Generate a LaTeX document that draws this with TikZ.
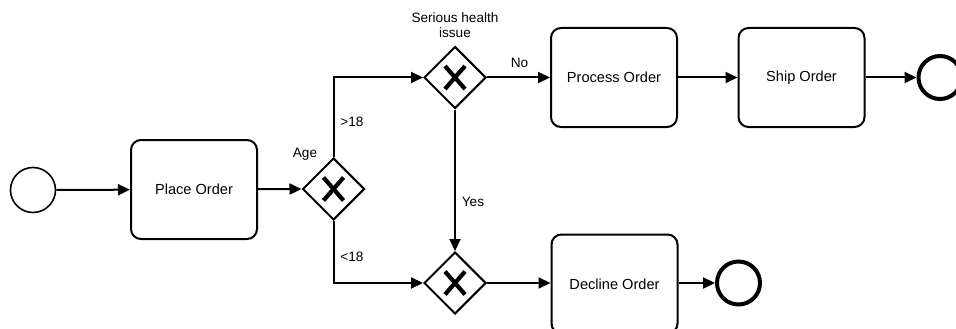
\documentclass[tikz,border=0pt]{standalone}
\usepackage{fontspec}
\setmainfont{Liberation Sans}
\usetikzlibrary{arrows.meta,shapes.geometric}
\tikzset{
  task/.style={draw, line width=2pt, rounded corners=10pt, minimum width=126pt,
    minimum height=99pt, inner sep=0pt, font=\fontsize{14.6}{16}\selectfont},
  gateway/.style={draw, diamond, line width=2pt, minimum size=62pt, inner sep=0pt,
    path picture={
      \draw[line width=4.2pt] ([shift={(-10pt,-11.5pt)}]path picture bounding box.center)
        -- ([shift={(10pt,11.5pt)}]path picture bounding box.center);
      \draw[line width=4.2pt] ([shift={(-10pt,11.5pt)}]path picture bounding box.center)
        -- ([shift={(10pt,-11.5pt)}]path picture bounding box.center);
    }},
  startev/.style={draw, circle, line width=1.6pt, minimum size=45pt, inner sep=0pt},
  endev/.style={draw, circle, line width=4pt, minimum size=43pt, inner sep=0pt},
  flow/.style={line width=2pt, -{Triangle[length=12pt,width=11pt]}},
  lbl/.style={font=\fontsize{13.6}{15.5}\selectfont, inner sep=0pt, align=center}
}
\begin{document}
\begin{tikzpicture}[x=1pt,y=-1pt]
\useasboundingbox (0,0) rectangle (956,329);
% events, tasks and gateways
\node[startev] (start) at (33,190) {};
\node[task] (place) at (194,189.5) {Place Order};
\node[gateway] (age) at (333.5,189) {};
\node[gateway] (health) at (455,77.5) {};
\node[gateway] (merge) at (455,283) {};
\node[task] (process) at (614,77.5) {Process Order};
\node[task] (ship) at (801.5,77.5) {Ship Order};
\node[endev] (endtop) at (940,77.5) {};
\node[task] (decline) at (614.5,284) {Decline Order};
\node[endev] (endbot) at (738.5,283) {};
% sequence flows
\draw[flow] (start) -- (place);
\draw[flow] (place) -- (age.west);
\draw[flow] (age.north) |- (health.west);
\draw[flow] (age.south) |- (merge.west);
\draw[flow] (health.east) -- (process);
\draw[flow] (process) -- (ship);
\draw[flow] (ship) -- (endtop);
\draw[flow] (health.south) -- (merge.north);
\draw[flow] (merge.east) -- (decline.west |- merge.east);
\draw[flow] (decline.east |- endbot.west) -- (endbot);
% labels
\node[lbl] (agelbl) at (305,154) {Age};
\node[lbl] (gt) at (352,122) {>18};
\node[lbl] (lt) at (352,257) {<18};
\node[lbl] (yes) at (473,202) {Yes};
\node[lbl] (no) at (519.5,63) {No};
\node[lbl] (hlbl) at (455,25) {Serious health\\issue};
\end{tikzpicture}
\end{document}
